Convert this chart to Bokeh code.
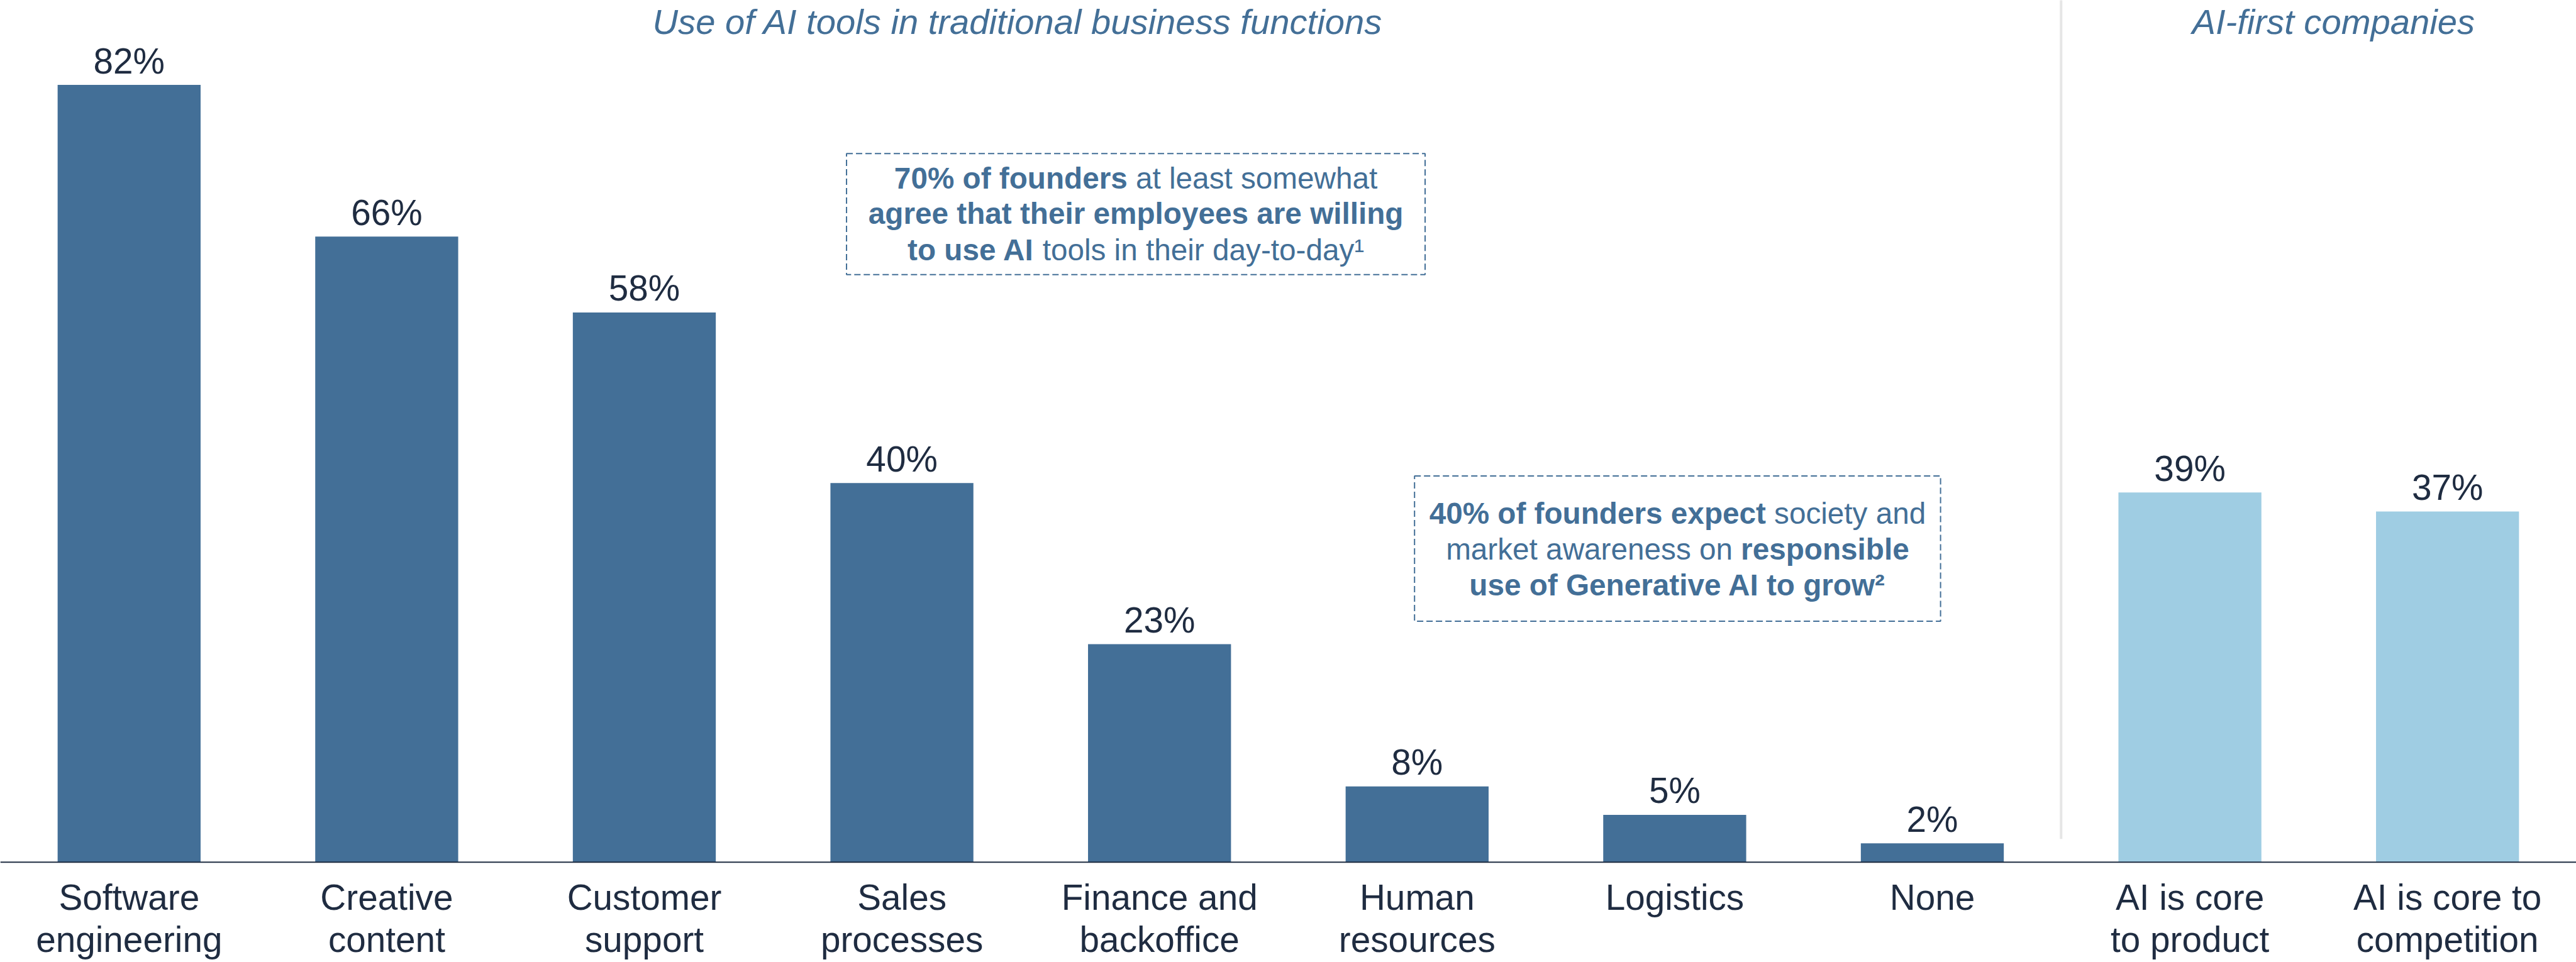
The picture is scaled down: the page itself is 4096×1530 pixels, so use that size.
from bokeh.plotting import figure
from bokeh.models import ColumnDataSource, FactorRange, Range1d, Span
from bokeh.core.properties import value
from bokeh.embed import file_html
from bokeh.resources import INLINE

# ---------------- data ----------------
categories = [
    "Software\nengineering", "Creative\ncontent", "Customer\nsupport",
    "Sales\nprocesses", "Finance and\nbackoffice", "Human\nresources",
    "Logistics", "None", "AI is core\nto product", "AI is core to\ncompetition",
]
shares = [82, 66, 58, 40, 23, 8, 5, 2, 39, 37]
groups = ["traditional"] * 8 + ["ai_first"] * 2
group_titles = ["Use of AI tools in traditional business functions", "AI-first companies"]

callout_1 = [
    [("70% of founders", "bold"), (" at least somewhat", "normal")],
    [("agree that their employees are willing", "bold")],
    [("to use AI", "bold"), (" tools in their day-to-day\u00b9", "normal")],
]
callout_2 = [
    [("40% of founders expect", "bold"), (" society and", "normal")],
    [("market awareness on ", "normal"), ("responsible", "bold")],
    [("use of Generative AI to grow\u00b2", "bold")],
]

# ---------------- styling / layout ----------------
W, H = 4096, 1530
FS = 0.8995
FONT = "Liberation Sans"
NAVY = "#1f2c41"
BLUE = "#436f97"
LIGHT = "#9fcde3"
Y_TOP = 90.93
Y_BOTTOM = -10.56
BASE_FIX = 0.37  # em, compensation for alphabetic baseline placement

group_color = {"traditional": BLUE, "ai_first": LIGHT}

REG = {' ': 278, '%': 889, '-': 333, '\u00b9': 333, '\u00b2': 333}
BOLD = dict(REG)
for d in "0123456789":
    REG[d] = 556
    BOLD[d] = 556
REG.update(dict(zip("ABCDEFGHIJKLMNOPQRSTUVWXYZ",
    [667, 667, 722, 722, 667, 611, 778, 722, 278, 500, 667, 556, 833, 722, 778, 667, 778, 722, 667, 611, 722, 667, 944, 667, 667, 611])))
REG.update(dict(zip("abcdefghijklmnopqrstuvwxyz",
    [556, 556, 500, 556, 556, 278, 556, 556, 222, 222, 500, 222, 833, 556, 556, 556, 556, 333, 500, 278, 556, 500, 722, 500, 500, 500])))
BOLD.update(dict(zip("ABCDEFGHIJKLMNOPQRSTUVWXYZ",
    [722, 722, 722, 722, 667, 611, 778, 722, 278, 556, 722, 611, 833, 722, 778, 667, 778, 722, 667, 611, 722, 667, 944, 667, 667, 611])))
BOLD.update(dict(zip("abcdefghijklmnopqrstuvwxyz",
    [556, 611, 556, 611, 556, 333, 611, 611, 278, 278, 556, 278, 889, 611, 611, 611, 611, 389, 556, 333, 611, 556, 778, 556, 556, 500])))


def tw(s, style, size):
    table = BOLD if style == "bold" else REG
    return sum(table.get(c, 556) for c in s) * size / 1000.0


def callout_rows(lines, cx, baselines, size):
    rows = dict(x=[], y=[], text=[], xoff=[], style=[])
    for segs, yb in zip(lines, baselines):
        total = sum(tw(t, st, size) for t, st in segs)
        cur = -total / 2.0
        for t, st in segs:
            lead = len(t) - len(t.lstrip(" "))
            trail = len(t) - len(t.rstrip(" "))
            cur += tw(" " * lead, st, size)
            core = t.strip(" ")
            rows["x"].append(cx)
            rows["y"].append(yb)
            rows["text"].append(core)
            rows["xoff"].append(cur)
            rows["style"].append(st)
            cur += tw(core, st, size) + tw(" " * trail, st, size)
    return rows


p = figure(
    x_range=FactorRange(*categories),
    y_range=Range1d(Y_BOTTOM, Y_TOP),
    width=W, height=H,
    output_backend="svg", toolbar_location=None,
    x_axis_location=None, y_axis_location=None, min_border=0,
)
p.outline_line_color = None
p.xgrid.visible = False
p.ygrid.visible = False
p.background_fill_color = "white"

src = ColumnDataSource(dict(
    cat=categories,
    share=shares,
    label=[f"{v}%" for v in shares],
    color=[group_color[g] for g in groups],
    line1=[c.split("\n")[0] for c in categories],
    line2=[(c.split("\n") + [""])[1] for c in categories],
    zero=[0] * len(categories),
))
p.vbar(x="cat", top="share", width=0.555, fill_color="color", line_color=None, source=src)

VAL_SIZE = 63 * FS
p.text(x="cat", y="share", text="label", source=src, y_offset=-17 - BASE_FIX * VAL_SIZE,
       text_align="center", text_baseline="alphabetic",
       text_font=value(FONT), text_font_size=f"{VAL_SIZE:.1f}px", text_color=NAVY)

# category (tick) labels below the baseline
CAT_SIZE = 63 * FS
for col, off in (("line1", 77), ("line2", 144)):
    p.text(x="cat", y="zero", text=col, source=src, y_offset=off - BASE_FIX * CAT_SIZE,
           text_align="center", text_baseline="alphabetic",
           text_font=value(FONT), text_font_size=f"{CAT_SIZE:.1f}px", text_color=NAVY)

# baseline (category axis line)
p.add_layout(Span(location=0, dimension="width", line_color=NAVY, line_width=2))

# divider between the two groups
p.segment(x0=[8.0], y0=[2.45], x1=[8.0], y1=[Y_TOP + 2], line_color="#e6e6e6", line_width=4)

# group titles
TITLE_SIZE = 62.5 * FS
p.text(x=[3.95, 9.057], y=[87.29, 87.29], text=group_titles, y_offset=-BASE_FIX * TITLE_SIZE,
       text_align="center", text_baseline="alphabetic",
       text_font=value(FONT), text_font_style="italic",
       text_font_size=f"{TITLE_SIZE:.1f}px", text_color=BLUE)

# callout boxes
p.quad(left=[3.285, 5.490], right=[5.531, 7.532], bottom=[62.0, 25.42], top=[74.76, 40.75],
       fill_color=None, line_color=BLUE, line_width=2, line_dash="10 5")

BOX_SIZE = 53 * FS
rows = callout_rows(callout_1, 4.408, [71.0, 67.24, 63.42], BOX_SIZE)
rows2 = callout_rows(callout_2, 6.511, [35.62, 31.86, 28.10], BOX_SIZE)
for k in rows:
    rows[k] += rows2[k]
csrc = ColumnDataSource(rows)
p.text(x="x", y="y", text="text", x_offset="xoff", text_font_style="style", source=csrc,
       y_offset=-BASE_FIX * BOX_SIZE,
       text_align="left", text_baseline="alphabetic",
       text_font=value(FONT), text_font_size=f"{BOX_SIZE:.1f}px", text_color=BLUE)

open("out.html", "w").write(file_html(p, INLINE))
